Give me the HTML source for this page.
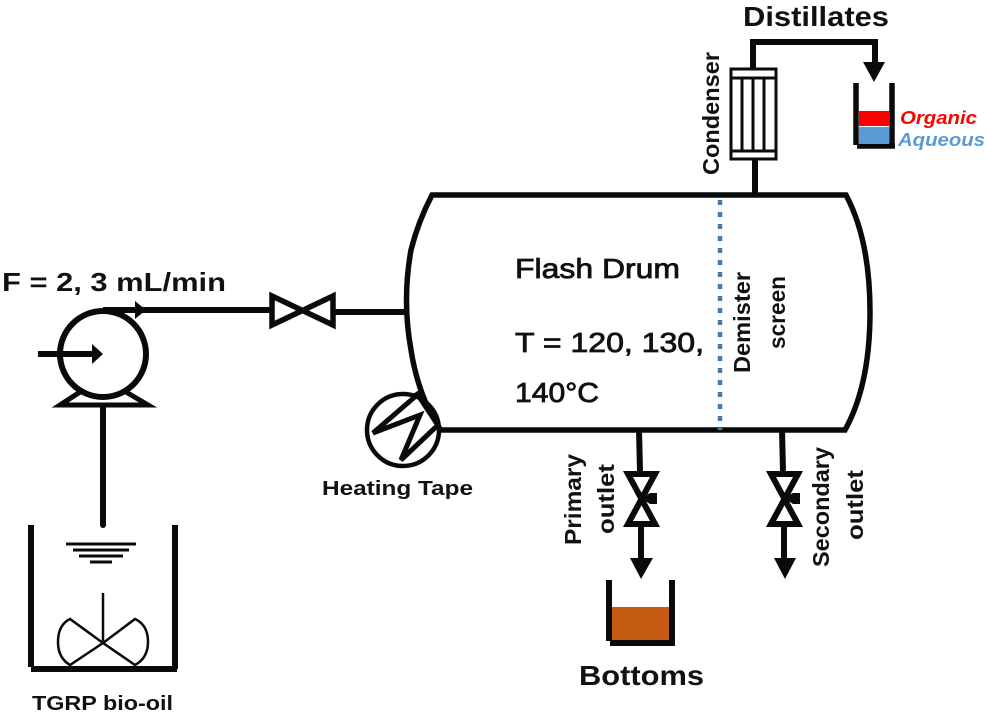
<!DOCTYPE html>
<html>
<head>
<meta charset="utf-8">
<style>
html,body{margin:0;padding:0;background:#fff}
svg{display:block}
text{font-family:"Liberation Sans",sans-serif;fill:#111}
</style>
</head>
<body>
<svg width="987" height="714" viewBox="0 0 987 714" xmlns="http://www.w3.org/2000/svg">
<g fill="none" stroke="#0a0a0a" stroke-width="6">
  <!-- Drum -->
  <path d="M432 195 H846 Q870 240 870 312 Q870 385 845 430 H440 Q418 395 411 350 Q402 300 411 250 Q418 222 432 195 Z" stroke-width="5.5"/>
  <!-- Condenser -->
  <path d="M753 69 V42 H875 V62"/>
  <path d="M755 159 V195"/>
  <g stroke-width="3">
    <rect x="731" y="69" width="45" height="90" fill="#fff"/>
    <path d="M731 78 H776 M731 151 H776 M742 78 V151 M753 78 V151 M764 78 V151"/>
  </g>
  <!-- Pump -->
  <circle cx="103" cy="354" r="43"/>
  <path d="M103 310 H270" />
  <path d="M38 354 H93" />
  <path d="M103 406 V525" stroke-linecap="round"/>
  <path d="M80 392 L60 405 H148 L126 392" stroke-width="5" stroke-miterlimit="10"/>
  <!-- Valve -->
  <path d="M272 296 L333 325 V296 L272 325 Z" stroke-width="5.5" stroke-linejoin="miter"/>
  <path d="M335 312 H405"/>
  <!-- Feed tank -->
  <path d="M31 525 V667 M31 669 H177 M175 525 V669"/>
  <g stroke-width="3">
    <path d="M66 544 H136"/>
    <path d="M73 550 H129"/>
    <path d="M79 556 H123"/>
    <path d="M90 562 H112"/>
  </g>
  <g stroke-width="2.5">
    <path d="M103 593 V643"/>
    <path d="M103 643 L70 619 Q58 625 58 642 Q58 658 70 665 Z"/>
    <path d="M103 643 L135 619 Q148 625 148 642 Q148 658 135 665 Z"/>
  </g>
  <!-- Heater -->
  <circle cx="403" cy="430" r="36" stroke-width="4.5" fill="#fff"/>
  <path d="M417 395 L373 433 L420 415 L401 460 L438 425" stroke-width="5"/>
  <path d="M416 392 L441 430" stroke-width="5"/>
  <!-- Outlets -->
  <path d="M639 430 L640 471 M641 527 V560"/>
  <path d="M782 430 L783 471 M784 527 V560"/>
  <path d="M628 474 H655 L628 524 H655 Z" stroke-width="6" stroke-miterlimit="10"/>
  <path d="M771 474 H798 L771 524 H798 Z" stroke-width="6" stroke-miterlimit="10"/>
  <!-- Bottoms beaker -->
  <path d="M609 580 V641 M610 643 H675 M672 580 V643"/>
  <!-- Distillates beaker -->
  <path d="M856 83 V145 M857 146 H895 M892 83 V146" stroke-width="5.5"/>
  <!-- Demister -->
  <path d="M720 200 V430" stroke="#4a7bb0" stroke-width="4.5" stroke-dasharray="5 7"/>
</g>
<!-- Fills -->
<rect x="859" y="111" width="30" height="15" fill="#ff0000"/>
<rect x="859" y="127" width="30" height="17" fill="#5b9bd5"/>
<rect x="612" y="607" width="57" height="33" fill="#c55a11"/>
<g fill="#0a0a0a">
  <path d="M863 62 H885 L874 82 Z"/>
  <path d="M630 558 H653 L641 579 Z"/>
  <path d="M774 558 H796 L785 579 Z"/>
  <path d="M641 498 L650 493 H657 V504 H650 Z"/>
  <path d="M784 498 L793 493 H800 V504 H793 Z"/>
  <path d="M92 344 L103 354 L92 364 Z"/>
  <path d="M135 301 L146 310 L135 319 Z"/>
</g>
<!-- Text -->
<text x="743" y="26" font-size="28" font-weight="bold" textLength="146" lengthAdjust="spacingAndGlyphs">Distillates</text>
<text x="900" y="124" font-size="18" font-weight="bold" font-style="italic" style="fill:#ff0000" textLength="77" lengthAdjust="spacingAndGlyphs">Organic</text>
<text x="898" y="146" font-size="18" font-weight="bold" font-style="italic" style="fill:#5b9bd5" textLength="87" lengthAdjust="spacingAndGlyphs">Aqueous</text>
<text x="2" y="291" font-size="26" font-weight="bold" textLength="224" lengthAdjust="spacingAndGlyphs">F = 2, 3 mL/min</text>
<text x="515" y="278" font-size="28" stroke="#111" stroke-width="0.8" textLength="165" lengthAdjust="spacingAndGlyphs">Flash Drum</text>
<text x="515" y="352" font-size="28" stroke="#111" stroke-width="0.8" textLength="189" lengthAdjust="spacingAndGlyphs">T = 120, 130,</text>
<text x="515" y="402" font-size="28" stroke="#111" stroke-width="0.8" textLength="84" lengthAdjust="spacingAndGlyphs">140°C</text>
<text x="322" y="495" font-size="20" font-weight="bold" textLength="151" lengthAdjust="spacingAndGlyphs">Heating Tape</text>
<text x="32" y="710" font-size="20" font-weight="bold" textLength="141" lengthAdjust="spacingAndGlyphs">TGRP bio-oil</text>
<text x="579" y="685" font-size="28" font-weight="bold" textLength="125" lengthAdjust="spacingAndGlyphs">Bottoms</text>
<text transform="translate(719 175) rotate(-90)" font-size="23" font-weight="bold" textLength="123" lengthAdjust="spacingAndGlyphs">Condenser</text>
<text transform="translate(750 373) rotate(-90)" font-size="23" font-weight="bold" textLength="101" lengthAdjust="spacingAndGlyphs">Demister</text>
<text transform="translate(785 349) rotate(-90)" font-size="23" font-weight="bold" textLength="73" lengthAdjust="spacingAndGlyphs">screen</text>
<text transform="translate(581 545) rotate(-90)" font-size="23" font-weight="bold" textLength="91" lengthAdjust="spacingAndGlyphs">Primary</text>
<text transform="translate(614 534) rotate(-90)" font-size="23" font-weight="bold" textLength="70" lengthAdjust="spacingAndGlyphs">outlet</text>
<text transform="translate(829 567) rotate(-90)" font-size="23" font-weight="bold" textLength="120" lengthAdjust="spacingAndGlyphs">Secondary</text>
<text transform="translate(863 540) rotate(-90)" font-size="23" font-weight="bold" textLength="70" lengthAdjust="spacingAndGlyphs">outlet</text>
</svg>
</body>
</html>
